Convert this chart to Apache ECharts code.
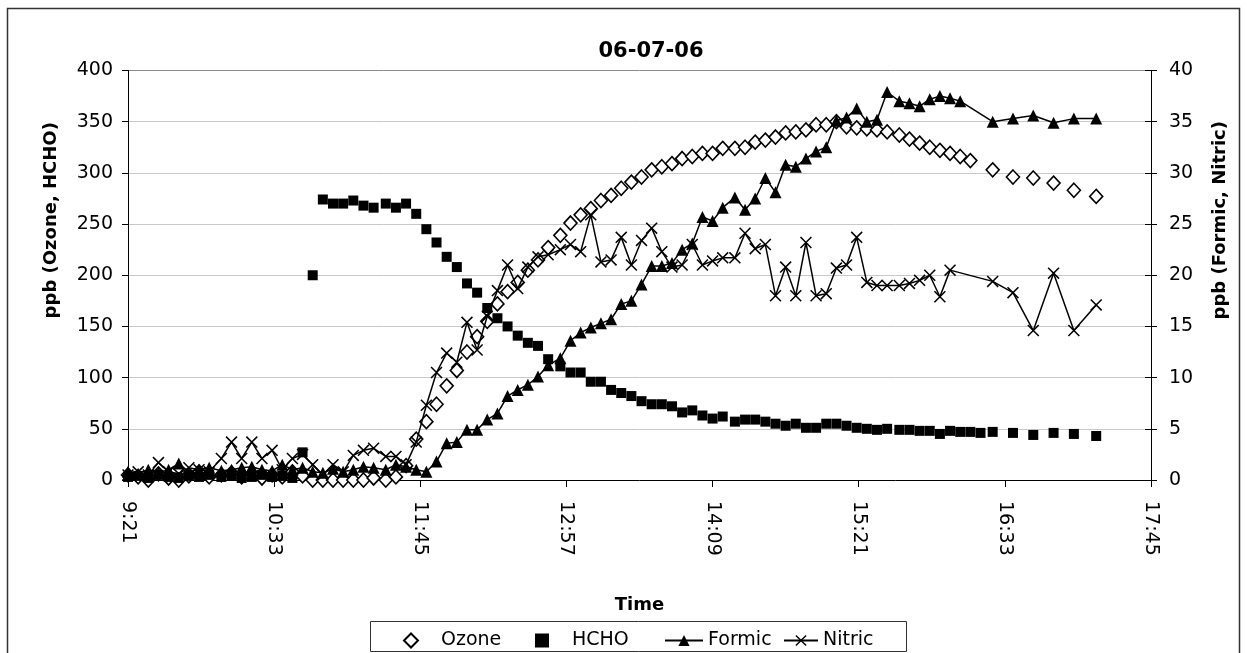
<!DOCTYPE html>
<html>
<head>
<meta charset="utf-8">
<script src="https://cdn.jsdelivr.net/npm/echarts@6/dist/echarts.min.js"></script>
<style>
html,body{margin:0;padding:0;background:#fff;}
#chart{width:1247px;height:653px;}
</style>
</head>
<body>
<div id="chart"></div>
<script>
// Sample times (H:MM) shared by all four species
const times = [
  '9:21','9:26','9:31','9:36','9:41','9:46','9:51','9:56','10:01','10:07',
  '10:12','10:17','10:22','10:27','10:32','10:37','10:42','10:47','10:52','10:57',
  '11:02','11:07','11:12','11:17','11:22','11:28','11:33','11:38','11:43','11:48',
  '11:53','11:58','12:03','12:08','12:13','12:18','12:23','12:28','12:33','12:38',
  '12:43','12:48','12:54','12:59','13:04','13:09','13:14','13:19','13:24','13:29',
  '13:34','13:39','13:44','13:49','13:54','13:59','14:04','14:09','14:14','14:20',
  '14:25','14:30','14:35','14:40','14:45','14:50','14:55','15:00','15:05','15:10',
  '15:15','15:20','15:25','15:30','15:35','15:41','15:46','15:51','15:56','16:01',
  '16:06','16:11','16:16','16:21',
  '16:27','16:37','16:47','16:57','17:07','17:18'
];

// Ozone, ppb (left axis)
const ozone = [
  5,3,0,6,2,0,4,8,3,5,
  7,3,6,2,5,3,8,4,0,0,
  0,0,0,0,2,0,3,14,40,57,
  74,92,107,125,140,155,172,184,193,205,
  215,227,239,251,259,265,273,278,285,291,
  296,303,306,309,314,316,319,319,324,324,
  325,330,332,335,339,340,342,347,347,350,
  345,344,343,342,340,337,333,329,325,322,
  319,316,312,null,
  303,296,295,290,283,277
];

// HCHO, ppb (left axis)
const hcho = [
  3,4,2,5,3,2,4,3,5,3,
  4,2,3,5,3,4,2,27,200,274,
  270,270,273,268,266,270,266,270,260,245,
  232,218,208,192,183,168,158,150,141,134,
  131,118,111,105,105,96,96,88,85,82,
  77,74,74,72,66,68,63,60,62,57,
  59,59,57,55,53,55,51,51,55,55,
  53,51,50,49,50,49,49,48,48,45,
  48,47,47,46,
  47,46,44,46,45,43
];

// Formic acid, ppb (right axis)
const formic = [
  0.8,0.6,1.0,0.7,1.0,1.6,0.8,1.0,1.2,0.9,
  1.0,1.2,1.3,1.0,0.9,1.5,1.0,1.2,0.8,0.7,
  1.1,0.8,1.0,1.3,1.2,1.0,1.5,1.3,1.0,0.8,
  1.8,3.6,3.7,4.9,4.9,5.9,6.5,8.2,8.8,9.3,
  10.1,11.2,11.9,13.6,14.4,14.9,15.3,15.7,17.2,17.5,
  19.1,20.9,20.9,21.2,22.5,23.1,25.7,25.3,26.6,27.6,
  26.4,27.5,29.5,28.1,30.8,30.6,31.4,32.1,32.5,35.1,
  35.4,36.3,35.0,35.2,37.9,37.0,36.8,36.5,37.2,37.5,
  37.3,37.0,null,null,
  35.0,35.3,35.6,34.9,35.3,35.3
];

// Nitric acid, ppb (right axis)
const nitric = [
  0.5,0.8,0.5,1.7,0.8,0.6,1.2,1.0,0.8,2.1,
  3.7,2.1,3.7,2.1,2.9,1.0,2.1,2.5,1.5,0.5,
  1.5,0.8,2.4,2.9,3.1,2.3,2.3,1.5,3.7,7.3,
  10.5,12.4,11.5,15.4,12.7,16.0,18.5,21.0,18.7,20.8,
  21.8,22.0,22.5,23.0,22.3,25.9,21.3,21.5,23.7,21.0,
  23.4,24.6,22.3,20.8,21.0,23.0,21.0,21.4,21.7,21.7,
  24.1,22.6,23.0,18.0,20.8,18.0,23.2,18.0,18.2,20.7,
  21.0,23.7,19.3,19.0,19.0,19.0,19.2,19.5,20.0,17.9,
  20.5,null,null,null,
  19.4,18.3,14.6,20.2,14.6,17.1
];

// Time-axis tick labels, one every 72 minutes
const timeTicks = ['9:21','10:33','11:45','12:57','14:09','15:21','16:33','17:45'];

const FONT = 'DejaVu Sans';

function toMinutes(s) {
  const p = s.split(':');
  return Number(p[0]) * 60 + Number(p[1]);
}
const tStart = toMinutes(timeTicks[0]);
const tSpan = toMinutes(timeTicks[timeTicks.length - 1]) - tStart;
const tStep = tSpan / (timeTicks.length - 1);

function seriesData(values) {
  const out = [];
  times.forEach((t, i) => {
    if (values[i] !== null && values[i] !== undefined) out.push([toMinutes(t) - tStart, values[i]]);
  });
  return out;
}

// thin filled "x" marker
const crossPath = 'path://M0,0.9L0.9,0L10,9.1L9.1,10Z M9.1,0L10,0.9L0.9,10L0,9.1Z';

// horizontal grid: light lines, darker top edge at 400
const leftGrid = [];
for (let i = 0; i < 8; i++) leftGrid.push('#c8c8c8');
leftGrid.push('#8c8c8c');

const axisName = { fontFamily: FONT, fontSize: 18, fontWeight: 'bold', color: '#000' };
const tickText = { fontFamily: FONT, fontSize: 19, color: '#000' };

// one legend entry per component so each key sits at its own place in the box
function legendEntry(name, left, keyWidth, textPad) {
  return {
    data: [name], left: left, top: 626,
    itemWidth: keyWidth, itemHeight: 14,
    textStyle: Object.assign({ padding: [0, 0, 0, textPad] }, tickText),
    z: 5
  };
}

const chart = echarts.init(document.getElementById('chart'), null, { renderer: 'canvas' });

chart.setOption({
  animation: false,
  backgroundColor: '#fff',
  textStyle: { fontFamily: FONT, color: '#000' },
  title: {
    text: '06-07-06',
    left: 646,
    top: 36,
    textAlign: 'center',
    textStyle: { fontFamily: FONT, fontSize: 21, fontWeight: 'bold', color: '#000' }
  },
  graphic: [
    {
      type: 'rect',
      shape: { x: 7.5, y: 8.5, width: 1232, height: 660 },
      style: { fill: null, stroke: '#333', lineWidth: 1.5 },
      silent: true, z: -1
    },
    {
      type: 'rect',
      shape: { x: 370.5, y: 621.5, width: 536, height: 30 },
      style: { fill: '#fff', stroke: '#333', lineWidth: 1 },
      silent: true, z: 0
    }
  ],
  legend: [
    legendEntry('Ozone', 398, 14, 18),
    legendEntry('HCHO', 530, 14, 18),
    legendEntry('Formic', 659, 38, 0),
    legendEntry('Nitric', 778, 34, 0)
  ],
  grid: { left: 128, right: 96, top: 70.5, bottom: 173, containLabel: false },
  xAxis: {
    type: 'value',
    min: 0, max: tSpan, interval: tStep,
    name: 'Time',
    nameLocation: 'middle',
    nameGap: 116,
    nameTextStyle: axisName,
    axisLine: { lineStyle: { color: '#000', width: 1 } },
    axisTick: { show: true, inside: false, length: 7, lineStyle: { color: '#000' } },
    axisLabel: Object.assign({
      rotate: -90, margin: 21,
      formatter: v => timeTicks[Math.round(v / tStep)] || ''
    }, tickText),
    splitLine: { show: false }
  },
  yAxis: [
    {
      type: 'value', min: 0, max: 400, interval: 50,
      name: 'ppb (Ozone, HCHO)',
      nameLocation: 'middle', nameRotate: 90, nameGap: 68,
      nameTextStyle: Object.assign({ padding: [0, 0, 0, 110] }, axisName),
      axisLine: { show: true, lineStyle: { color: '#000', width: 1 } },
      axisTick: { show: true, inside: false, length: 6, lineStyle: { color: '#000' } },
      axisLabel: Object.assign({ margin: 15 }, tickText),
      splitLine: { show: true, lineStyle: { color: leftGrid, width: 1 } }
    },
    {
      type: 'value', min: 0, max: 40, interval: 5,
      name: 'ppb (Formic, Nitric)',
      nameLocation: 'middle', nameRotate: 90, nameGap: 60,
      nameTextStyle: Object.assign({ padding: [0, 0, 0, 110] }, axisName),
      axisLine: { show: true, lineStyle: { color: '#000', width: 1 } },
      axisTick: { show: true, inside: false, length: 6, lineStyle: { color: '#000' } },
      axisLabel: Object.assign({ margin: 18 }, tickText),
      splitLine: { show: false }
    },
    {
      // inner half of the crossing ticks on the right-hand scale
      type: 'value', min: 0, max: 40, interval: 5, position: 'right',
      axisLine: { show: false },
      axisTick: { show: true, inside: true, length: 6, lineStyle: { color: '#000' } },
      axisLabel: { show: false },
      splitLine: { show: false }
    }
  ],
  series: [
    {
      name: 'Ozone', type: 'scatter', yAxisIndex: 0,
      symbol: 'diamond', symbolSize: [13, 14],
      itemStyle: { color: '#fff', borderColor: '#000', borderWidth: 1.6, opacity: 1 },
      data: seriesData(ozone), z: 2
    },
    {
      name: 'HCHO', type: 'scatter', yAxisIndex: 0,
      symbol: 'rect', symbolSize: 10,
      itemStyle: { color: '#000', opacity: 1 },
      data: seriesData(hcho), z: 3
    },
    {
      name: 'Formic', type: 'line', yAxisIndex: 1,
      symbol: 'triangle', symbolSize: 12, showAllSymbol: true, connectNulls: true,
      lineStyle: { color: '#000', width: 1.5 },
      itemStyle: { color: '#000' },
      data: seriesData(formic), z: 4
    },
    {
      name: 'Nitric', type: 'line', yAxisIndex: 1,
      symbol: crossPath, symbolSize: 12, showAllSymbol: true, connectNulls: true,
      lineStyle: { color: '#000', width: 1.5 },
      itemStyle: { color: '#000' },
      data: seriesData(nitric), z: 5
    }
  ]
});
</script>
</body>
</html>
